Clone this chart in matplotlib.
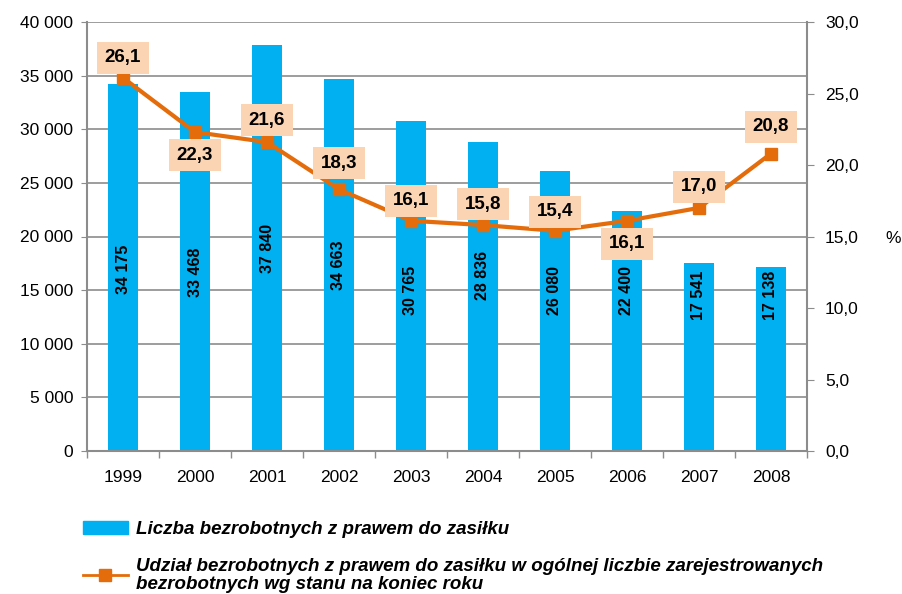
import matplotlib
matplotlib.use("Agg")
import matplotlib.pyplot as plt
from matplotlib.patches import Patch
from matplotlib.lines import Line2D
import numpy as np

plt.rcParams['font.family'] = ['Liberation Sans', 'DejaVu Sans']

# data
years = ['1999', '2000', '2001', '2002', '2003', '2004', '2005', '2006', '2007', '2008']
counts = [34175, 33468, 37840, 34663, 30765, 28836, 26080, 22400, 17541, 17138]
shares = [26.1, 22.3, 21.6, 18.3, 16.1, 15.8, 15.4, 16.1, 17.0, 20.8]

# label placement (bar label centre height, offset of % label in pixels)
bar_label_y = [16900, 16700, 18900, 17300, 15000, 16400, 15000, 15000, 14500, 14500]
share_off = [20, -23, 22, 26, 20, 21, 19, -23, 21, 27]

blue = '#00B0F0'
orange = '#E46C0A'
peach = '#FBD4B4'
gray = '#8C8C8C'

fig = plt.figure(figsize=(9.03, 5.94), dpi=100)
ax = fig.add_axes([87/903, 1-451/594, 720/903, 429/594])
x = np.arange(len(years))

ax.bar(x, counts, width=0.41, color=blue, zorder=2)
for xi, c, ly in zip(x, counts, bar_label_y):
    s = f"{c:,}".replace(',', ' ')
    ax.text(xi, ly, s, rotation=90, ha='center', va='center',
            fontsize=11.5, fontweight='bold', zorder=3)

ax.set_xlim(-0.5, len(years) - 0.5)
ax.set_ylim(0, 40000)
ax.set_yticks(np.arange(0, 40001, 5000))
ax.set_yticklabels([f"{v:,}".replace(',', ' ') for v in range(0, 40001, 5000)])
ax.set_xticks(x)
ax.set_xticklabels(years)
ax.set_xticks(np.arange(-0.5, len(years)), minor=True)
ax.tick_params(axis='x', which='major', length=0, pad=14, labelsize=12.5)
ax.tick_params(axis='x', which='minor', length=5, color=gray, width=1)
ax.tick_params(axis='y', length=4, color=gray, labelsize=12.5, pad=6)
ax.yaxis.grid(True, color=gray, lw=1.2)
ax.set_axisbelow(True)
for sp in ['top', 'right']:
    ax.spines[sp].set_visible(False)
for sp in ['left', 'bottom']:
    ax.spines[sp].set_color(gray)
    ax.spines[sp].set_linewidth(1.5)

ax2 = ax.twinx()
ax2.plot(x, shares, color=orange, lw=3, marker='s', markersize=8, zorder=4)
ax2.set_ylim(0, 30)
ax2.set_yticks(np.arange(0, 30.1, 5))
ax2.set_yticklabels([f"{v:.1f}".replace('.', ',') for v in np.arange(0, 30.1, 5)])
ax2.tick_params(axis='y', length=5, color=gray, labelsize=12.5, pad=8)
for sp in ['top', 'left', 'bottom']:
    ax2.spines[sp].set_visible(False)
ax2.spines['right'].set_color(gray)
ax2.spines['right'].set_linewidth(1.5)
for xi, v, off in zip(x, shares, share_off):
    ax2.annotate(f"{v:.1f}".replace('.', ','), (xi, v), xytext=(0, off),
                 textcoords='offset pixels', ha='center', va='center',
                 fontsize=13.5, fontweight='bold', zorder=5,
                 bbox=dict(boxstyle='square,pad=0.4', fc=peach, ec='none'))
fig.text(893/903, 1-238/594, '%', fontsize=12.5, ha='center', va='center')

handles = [Patch(color=blue),
           Line2D([], [], color=orange, lw=2, marker='s', markersize=8)]
labels = ['Liczba bezrobotnych z prawem do zasiłku',
          'Udział bezrobotnych z prawem do zasiłku w ogólnej liczbie zarejestrowanych\nbezrobotnych wg stanu na koniec roku']
leg = fig.legend(handles, labels, loc='upper left', bbox_to_anchor=(66/903, 1-504/594),
                 frameon=False, prop=dict(size=13.5, weight='bold', style='italic'),
                 handlelength=2.4, handletextpad=0.45, labelspacing=1.05)
for t in leg.get_texts():
    t.set_linespacing(1.1)

fig.savefig('out.png', dpi=100)
